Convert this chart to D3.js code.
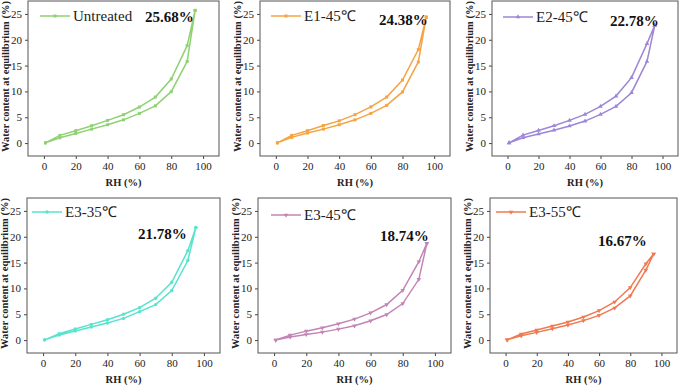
<!DOCTYPE html>
<html>
<head>
<meta charset="utf-8">
<script src="https://cdn.jsdelivr.net/npm/d3@7"></script>
<style>
  body { margin: 0; background: #fff; }
  svg { display: block; }
  .tick text { font-family: "Liberation Serif", "Times New Roman", serif; font-size: 11px; fill: #222; }
  .axtitle { font-family: "Liberation Serif", "Times New Roman", serif; font-weight: bold; font-size: 10.5px; fill: #222; }
</style>
</head>
<body>
<div id="chart"></div>
<script>
const rh = [1, 10, 20, 30, 40, 50, 60, 70, 80, 90, 95];

const names = ["Untreated", "E1-45\u2103", "E2-45\u2103", "E3-35\u2103", "E3-45\u2103", "E3-55\u2103"];
const maxLabels = ["25.68%", "24.38%", "22.78%", "21.78%", "18.74%", "16.67%"];

// adsorption (lower branch), from 1 to 95 % RH
const adsUntreated = [0.05, 1.03, 1.87, 2.7, 3.55, 4.5, 5.75, 7.2, 9.95, 15.8, 25.68];
const adsE1 = [0.05, 1.1, 1.95, 2.7, 3.55, 4.5, 5.75, 7.3, 9.9, 15.7, 24.38];
const adsE2 = [0.05, 1.03, 1.75, 2.5, 3.3, 4.26, 5.55, 7.1, 9.75, 15.8, 22.78];
const adsE335 = [0.05, 0.97, 1.75, 2.53, 3.3, 4.2, 5.5, 6.87, 9.6, 15.4, 21.78];
const adsE345 = [0.0, 0.58, 1.09, 1.54, 2.12, 2.76, 3.73, 4.95, 7.07, 11.76, 18.74];
const adsE355 = [0.05, 0.84, 1.49, 2.2, 2.91, 3.76, 4.79, 6.22, 8.55, 13.54, 16.67];

// desorption (upper branch), same RH points
const desUntreated = [0.05, 1.49, 2.4, 3.36, 4.39, 5.49, 6.98, 8.9, 12.4, 18.86, 25.68];
const desE1 = [0.05, 1.5, 2.4, 3.4, 4.3, 5.5, 7.0, 8.9, 12.2, 18.1, 24.38];
const desE2 = [0.05, 1.55, 2.45, 3.35, 4.4, 5.55, 7.1, 9.1, 12.66, 19.25, 22.78];
const desE335 = [0.05, 1.23, 2.14, 3.04, 3.95, 4.99, 6.28, 8.1, 11.2, 17.3, 21.78];
const desE345 = [0.0, 0.96, 1.73, 2.38, 3.15, 4.05, 5.27, 6.88, 9.64, 15.17, 18.74];
const desE355 = [0.05, 1.17, 1.94, 2.72, 3.5, 4.47, 5.7, 7.38, 10.17, 14.77, 16.67];

const adsorption = [adsUntreated, adsE1, adsE2, adsE335, adsE345, adsE355];
const desorption = [desUntreated, desE1, desE2, desE335, desE345, desE355];

const xTicks = [0, 20, 40, 60, 80, 100];
const yTicks = [0, 5, 10, 15, 20, 25];

const colors = ["#8fd174", "#f5a443", "#9d86d6", "#58e3cc", "#c385b6", "#ef7a52"];
const symbols = [d3.symbolSquare, d3.symbolSquare, d3.symbolTriangle, d3.symbolCircle, d3.symbolTriangle, d3.symbolTriangle];
const flipSym = [false, false, false, false, true, true];

// panel boxes: left, right, top, bottom; legend + label positions
const boxes = [
  {l: 28, r: 219, t: 1, b: 156, lgx: 40, lgy: 16, px: 145, py: 22},
  {l: 260, r: 450, t: 1, b: 156, lgx: 271, lgy: 16, px: 379, py: 25},
  {l: 492, r: 678, t: 1, b: 156, lgx: 503, lgy: 17, px: 610, py: 26},
  {l: 27, r: 220, t: 198, b: 353, lgx: 32, lgy: 212, px: 138, py: 239},
  {l: 258, r: 451, t: 198, b: 353, lgx: 271, lgy: 215, px: 380, py: 241},
  {l: 490, r: 677, t: 198, b: 353, lgx: 496, lgy: 212, px: 598, py: 246}
];

const width = 685, height = 387;
const svg = d3.select("#chart").append("svg")
  .attr("width", width)
  .attr("height", height);

names.forEach((name, i) => {
  const bx = boxes[i];
  const x = d3.scaleLinear().domain([-10, 110]).range([bx.l, bx.r]);
  const y = d3.scaleLinear().domain([-2.5, 27.5]).range([bx.b, bx.t]);
  const g = svg.append("g");

  g.append("g")
    .attr("transform", `translate(0,${bx.b})`)
    .call(d3.axisBottom(x).tickValues(xTicks).tickSize(3).tickPadding(3))
    .call(a => a.select(".domain").remove());
  g.append("g")
    .attr("transform", `translate(${bx.l},0)`)
    .call(d3.axisLeft(y).tickValues(yTicks).tickSize(3).tickPadding(3))
    .call(a => a.select(".domain").remove());
  g.selectAll(".tick line").attr("stroke", "#444");

  g.append("rect")
    .attr("x", bx.l).attr("y", bx.t)
    .attr("width", bx.r - bx.l).attr("height", bx.b - bx.t)
    .attr("fill", "none")
    .attr("stroke", "#555")
    .attr("stroke-width", 1);

  // loop: adsorption up, then desorption back down
  const ads = rh.map((v, k) => [v, adsorption[i][k]]);
  const des = rh.map((v, k) => [v, desorption[i][k]]).reverse();
  const line = d3.line().x(d => x(d[0])).y(d => y(d[1]));
  g.append("path")
    .attr("d", line(ads.concat(des)))
    .attr("fill", "none")
    .attr("stroke", colors[i])
    .attr("stroke-width", 1.5);

  const sym = d3.symbol().type(symbols[i]).size(9);
  g.selectAll(".pt")
    .data(ads.concat(des))
    .enter().append("path")
    .attr("d", sym)
    .attr("transform", d => `translate(${x(d[0])},${y(d[1])})${flipSym[i] ? " rotate(180)" : ""}`)
    .attr("fill", colors[i]);

  // legend
  g.append("line")
    .attr("x1", bx.lgx).attr("x2", bx.lgx + 30)
    .attr("y1", bx.lgy).attr("y2", bx.lgy)
    .attr("stroke", colors[i]).attr("stroke-width", 1.5);
  g.append("path")
    .attr("d", sym)
    .attr("transform", `translate(${bx.lgx + 15},${bx.lgy})${flipSym[i] ? " rotate(180)" : ""}`)
    .attr("fill", colors[i]);
  g.append("text")
    .attr("x", bx.lgx + 33).attr("y", bx.lgy + 5)
    .text(name)
    .style("font-family", "Liberation Serif, Times New Roman, serif")
    .style("font-size", "15px")
    .attr("fill", "#222");

  g.append("text")
    .attr("x", bx.px).attr("y", bx.py)
    .text(maxLabels[i])
    .style("font-family", "Liberation Serif, Times New Roman, serif")
    .style("font-size", "15px")
    .style("font-weight", "bold")
    .attr("fill", "#111");

  g.append("text")
    .attr("class", "axtitle")
    .attr("x", (bx.l + bx.r) / 2)
    .attr("y", bx.b + 30)
    .style("text-anchor", "middle")
    .text("RH (%)");
  g.append("text")
    .attr("class", "axtitle")
    .attr("transform", `translate(${bx.l - 19},${(bx.t + bx.b) / 2 - 2}) rotate(-90)`)
    .style("text-anchor", "middle")
    .text("Water content at equilibrium (%)");
});
</script>
</body>
</html>
